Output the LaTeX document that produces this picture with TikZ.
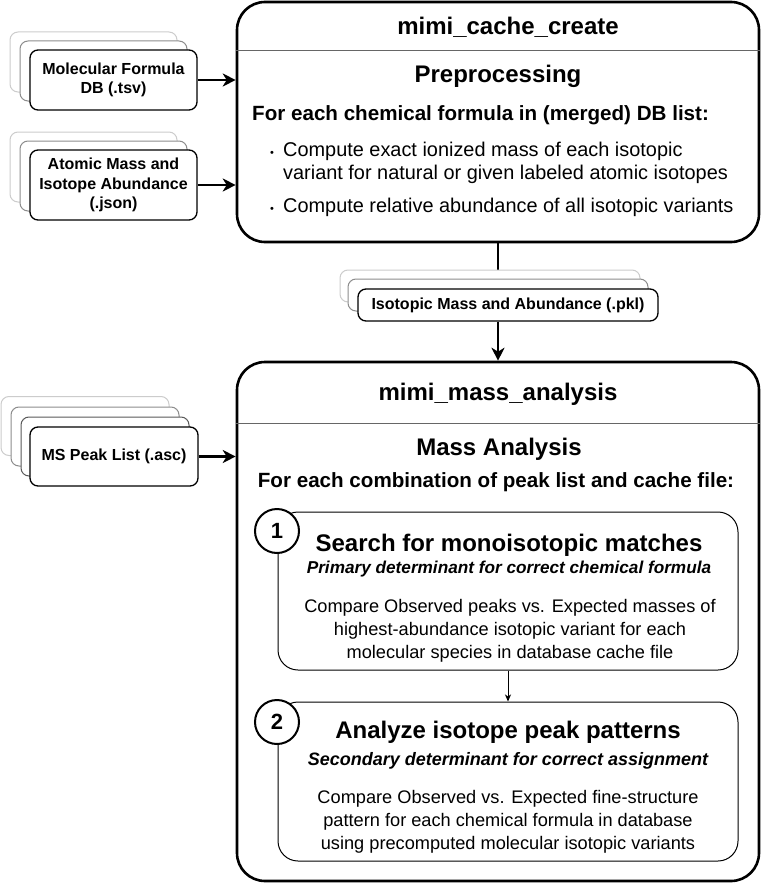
\documentclass[tikz,border=0pt]{standalone}
\usepackage{fontspec}
\setmainfont{Liberation Sans}
\usetikzlibrary{arrows.meta}
\begin{document}
\begin{tikzpicture}[x=1pt,y=-1pt,
  bigbox/.style={draw, line width=2.6pt, rounded corners=28pt, fill=white, inner sep=0pt},
  stepbox/.style={draw, line width=1pt, rounded corners=20pt, fill=white, inner sep=0pt},
  filebox/.style={draw, line width=1.3pt, rounded corners=8pt, fill=white, align=center, inner sep=0pt,
     font=\bfseries\fontsize{16}{19.5}\selectfont},
  ghostA/.style={filebox, draw=black!20, line width=1pt},
  ghostB/.style={filebox, draw=black!45, line width=1pt},
  ghostC/.style={filebox, draw=black!65, line width=1pt},
  numcircle/.style={circle, draw, line width=2pt, fill=white, minimum size=44pt, inner sep=0pt,
     font=\bfseries\fontsize{22}{26}\selectfont},
  bigarrow/.style={line width=2.6pt, -{Stealth[length=13pt,width=13pt,inset=4pt]}},
  smallarrow/.style={line width=0.9pt, -{Stealth[length=7pt,width=6pt,inset=2pt]}},
  ttl/.style={anchor=base, inner sep=0pt, font=\bfseries\fontsize{24}{28}\selectfont},
  lead/.style={inner sep=0pt, font=\bfseries\fontsize{20.6}{24}\selectfont},
  bul/.style={anchor=base west, inner sep=0pt, font=\fontsize{19.9}{23}\selectfont},
  dot/.style={anchor=base, inner sep=0pt, font=\fontsize{11}{13}\selectfont},
  sub/.style={anchor=base, inner sep=0pt, font=\bfseries\itshape\fontsize{17.2}{20}\selectfont},
  body/.style={anchor=base, inner sep=0pt, align=center, font=\fontsize{18.2}{23}\selectfont},
]
\useasboundingbox (0,0) rectangle (761,883);

% ---------- top process box ----------
\node[bigbox, minimum width=522pt, minimum height=240pt] (top) at (498,122) {};
\draw[black!60, line width=1pt] (top.west |- 0,51) -- (top.east |- 0,51);
\node[ttl] (toptitle) at (508,35) {mimi\_cache\_create};
\node[ttl] (prep) at (498,82) {Preprocessing};
\node[lead, anchor=base west] (forchem) at (252,120) {For each chemical formula in (merged) DB list:};
\node[dot] (d1) at (272,156) {•};
\node[bul] (b1) at (283,156) {Compute exact ionized mass of each isotopic};
\node[bul] (b1b) at (283,179) {variant for natural or given labeled atomic isotopes};
\node[dot] (d2) at (272,212) {•};
\node[bul] (b2) at (283,212) {Compute relative abundance of all isotopic variants};

% ---------- bottom analysis box ----------
\node[bigbox, minimum width=522pt, minimum height=519pt] (bot) at (498,621.5) {};
\draw[black!60, line width=1pt] (bot.west |- 0,423) -- (bot.east |- 0,423);
\node[ttl] (bottitle) at (498,400) {mimi\_mass\_analysis};
\node[ttl] (mass) at (499,455) {Mass Analysis};
\node[lead, anchor=base] (forcomb) at (496,487) {For each combination of peak list and cache file:};

% ---------- step 1 ----------
\node[stepbox, minimum width=460pt, minimum height=158pt] (s1) at (508,591) {};
\node[ttl] (s1t) at (509,551) {Search for monoisotopic matches};
\node[sub] (s1s) at (509,573) {Primary determinant for correct chemical formula};
\node[body] (s1b1) at (510,612) {Compare Observed peaks vs. Expected masses of};
\node[body] (s1b2) at (510,635) {highest-abundance isotopic variant for each};
\node[body] (s1b3) at (510,658) {molecular species in database cache file};
\node[numcircle] (c1) at (277,531) {1};

% ---------- step 2 ----------
\node[stepbox, minimum width=460pt, minimum height=159pt] (s2) at (508,781.5) {};
\node[ttl] (s2t) at (508,738) {Analyze isotope peak patterns};
\node[sub, font=\bfseries\itshape\fontsize{18}{21}\selectfont] (s2s) at (508,765) {Secondary determinant for correct assignment};
\node[body] (s2b1) at (508,803) {Compare Observed vs. Expected fine-structure};
\node[body] (s2b2) at (508,826) {pattern for each chemical formula in database};
\node[body] (s2b3) at (508,849) {using precomputed molecular isotopic variants};
\node[numcircle] (c2) at (277,722) {2};

\draw[smallarrow] (s1.south) -- (s2.north);

% ---------- line to cache file ----------
\coordinate (pklmid) at (498,290);
\draw[line width=2.6pt] (top.south) -- (pklmid);

% ---------- file stacks ----------
% Molecular formula DB
\node[ghostA, minimum width=167pt, minimum height=60pt] (molg2) at (93.5,62) {};
\node[ghostB, minimum width=167pt, minimum height=60pt] (molg1) at (103.5,71) {};
\node[filebox, minimum width=167pt, minimum height=60pt] (mol) at (113.5,80) {Molecular Formula\\DB (.tsv)};
% Atomic mass
\node[ghostA, minimum width=167pt, minimum height=70pt] (atog2) at (93.5,167) {};
\node[ghostB, minimum width=167pt, minimum height=70pt] (atog1) at (103.5,176) {};
\node[filebox, minimum width=167pt, minimum height=70pt] (ato) at (113.5,185) {Atomic Mass and\\Isotope Abundance\\(.json)};
% Cache pkl
\node[ghostA, minimum width=300pt, minimum height=32pt] (pklg2) at (490,286) {};
\node[ghostB, minimum width=300pt, minimum height=32pt] (pklg1) at (498,295) {};
\node[filebox, minimum width=300pt, minimum height=32pt] (pkl) at (508,305) {Isotopic Mass and Abundance (.pkl)};
% MS peak list
\node[ghostA, minimum width=168pt, minimum height=59pt] (msg3) at (85,426) {};
\node[ghostB, minimum width=168pt, minimum height=59pt] (msg2) at (95,436.5) {};
\node[ghostC, minimum width=168pt, minimum height=59pt] (msg1) at (105,446.5) {};
\node[filebox, minimum width=168pt, minimum height=59pt] (ms) at (114,456.5) {MS Peak List (.asc)};

% ---------- arrows ----------
\draw[bigarrow] (mol.east) -- (top.west |- mol.east);
\draw[bigarrow] (ato.east) -- (top.west |- ato.east);
\draw[bigarrow] (ms.east) -- (bot.west |- ms.east);
\draw[bigarrow] (pkl.south -| bot.north) -- (bot.north);
\end{tikzpicture}
\end{document}
